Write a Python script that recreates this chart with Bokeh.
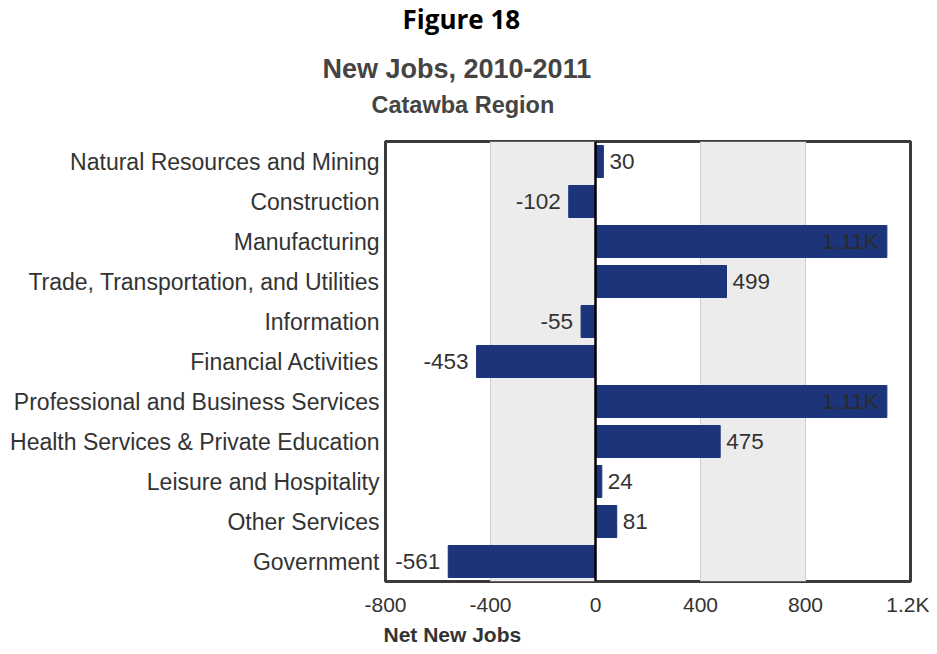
from bokeh.plotting import figure
from bokeh.models import ColumnDataSource, FactorRange, FixedTicker, Title, Span, BoxAnnotation, LabelSet
from bokeh.core.properties import value
from bokeh.embed import file_html
from bokeh.resources import INLINE

categories = [
    "Natural Resources and Mining",
    "Construction",
    "Manufacturing",
    "Trade, Transportation, and Utilities",
    "Information",
    "Financial Activities",
    "Professional and Business Services",
    "Health Services & Private Education",
    "Leisure and Hospitality",
    "Other Services",
    "Government",
]
net_new_jobs = [30, -102, 1110, 499, -55, -453, 1110, 475, 24, 81, -561]
tick_values = [-800, -400, 0, 400, 800, 1200]
tick_labels = ["-800", "-400", "0", "400", "800", "1.2K"]


def fmt(v):
    if abs(v) >= 1000:
        return f"{v/1000:.2f}K"
    return str(v)


BAR = "#1b347a"
TXT = "#333333"

labels = [fmt(v) for v in net_new_jobs]
inside = [abs(v) >= 1000 for v in net_new_jobs]
align = ["right" if (v < 0 or ins) else "left" for v, ins in zip(net_new_jobs, inside)]
xoff = [-8 if a == "right" else 6 for a in align]
tcol = ["#2a2a2a" if ins else TXT for ins in inside]
src = ColumnDataSource(dict(cat=categories, val=net_new_jobs, lab=labels,
                            align=align, xoff=xoff, tcol=tcol))

p = figure(
    y_range=FactorRange(*reversed(categories)),
    x_range=(tick_values[0], tick_values[-1]),
    frame_width=525, frame_height=440,
    min_border_left=385, min_border_right=19, min_border_top=0, min_border_bottom=0,
    output_backend="svg", toolbar_location=None,
    background_fill_color="white", border_fill_color="white",
)
p.title = None

# alternating bands
for lo, hi in [(tick_values[1], tick_values[2]), (tick_values[3], tick_values[4])]:
    p.add_layout(BoxAnnotation(left=lo, right=hi, fill_color="#ececec", fill_alpha=1,
                               line_alpha=0, level="underlay"))

p.hbar(y="cat", right="val", left=0, height=0.8, source=src, color=BAR, line_color=BAR)

p.add_layout(Span(location=0, dimension="height", line_color="black", line_width=2.5))

ls = LabelSet(x="val", y="cat", text="lab", source=src, text_align="align",
              x_offset="xoff", text_baseline="middle", text_color="tcol",
              text_font=value("Liberation Sans"), text_font_size="22.5px")
p.add_layout(ls)

p.outline_line_color = "#3a3a3a"
p.outline_line_width = 3

p.xaxis.ticker = FixedTicker(ticks=tick_values)
p.xaxis.major_label_overrides = {t: l for t, l in zip(tick_values, tick_labels)}
p.xgrid.ticker = FixedTicker(ticks=tick_values)
p.xgrid.grid_line_color = "#b5b5b5"
p.xgrid.grid_line_width = 1
p.ygrid.grid_line_color = None

for ax in (p.xaxis, p.yaxis):
    ax.axis_line_color = None
    ax.major_tick_line_color = None
    ax.minor_tick_line_color = None
    ax.major_tick_out = 0
    ax.major_tick_in = 0
    ax.minor_tick_out = 0
    ax.major_label_text_color = TXT
    ax.major_label_text_font = "Liberation Sans"
p.xaxis.major_label_text_font_size = "21px"
p.xaxis.major_label_standoff = 11
p.yaxis.major_label_text_font_size = "23px"
p.yaxis.major_label_standoff = 6


def spacer(gap):
    return Title(text=" ", text_font_size="1px", standoff=gap)


# titles (first added is nearest the plot)
p.add_layout(spacer(21), "above")
p.add_layout(Title(text="Catawba Region", text_font="Liberation Sans", text_font_style="bold",
                   text_font_size="23.5px", text_color="#444444", align="left", offset=-14,
                   standoff=0), "above")
p.add_layout(spacer(3), "above")
p.add_layout(Title(text="New Jobs, 2010-2011", text_font="Liberation Sans", text_font_style="bold",
                   text_font_size="27px", text_color="#444444", align="left", offset=-63,
                   standoff=0), "above")
p.add_layout(spacer(10), "above")
p.add_layout(Title(text="Figure 18", text_font="Open Sans", text_font_style="bold",
                   text_font_size="26px", text_color="black", align="left", offset=17,
                   standoff=0, vertical_align="top"), "above")
p.add_layout(Title(text="Net New Jobs", text_font="Liberation Sans", text_font_style="bold",
                   text_font_size="21px", text_color=TXT, align="left", offset=-2,
                   standoff=4), "below")

open("out.html", "w").write(file_html(p, INLINE))
